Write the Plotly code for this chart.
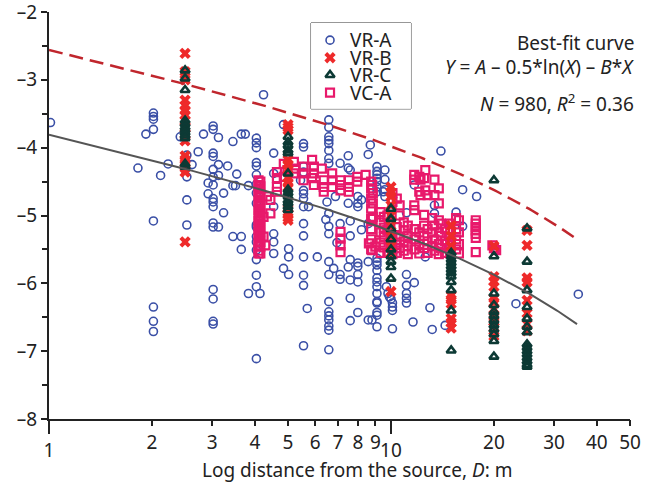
import numpy as np
import plotly.graph_objects as go

# ---------------- data ----------------
# VR-A (blue open circles): (distance, [values])
vra_groups = [
    (1.01, [-3.63]), (1.82, [-4.30]), (1.92, [-3.80]),
    (2.02, [-3.49, -3.54, -3.58, -3.73, -5.08, -6.35, -6.56, -6.71]),
    (2.12, [-4.41]), (2.23, [-4.24]), (2.42, [-3.84]),
    (2.53, [-4.11, -4.43, -4.77, -5.14]), (2.62, [-4.25]), (2.73, [-4.06]),
    (2.83, [-3.80]), (2.92, [-4.52, -4.68]),
    (3.02, [-3.68, -3.73, -4.08, -4.13, -4.32, -4.43, -4.55, -4.75, -4.80, -4.87,
            -5.11, -5.17, -6.09, -6.23, -6.56, -6.60]),
    (3.13, [-3.85, -4.25, -4.41, -5.17]), (3.24, [-4.67, -4.96]), (3.33, [-4.27]),
    (3.45, [-3.91, -4.56, -5.31]), (3.51, [-4.56]), (3.54, [-4.39]),
    (3.65, [-3.80, -5.31, -5.50]), (3.75, [-3.80]), (3.83, [-4.56, -6.15]),
    (4.04, [-3.86, -3.93, -4.00, -4.22, -4.27, -4.40, -4.54, -4.67, -4.82, -5.14,
            -5.17, -5.31, -5.39, -5.51, -5.65, -5.88, -6.05, -7.11]),
    (4.14, [-6.15]), (4.24, [-3.22]),
    (4.54, [-4.08, -4.38, -4.87, -5.27, -5.39, -5.56]),
    (4.85, [-3.66, -5.78]), (5.02, [-5.49, -5.61, -5.87]), (5.44, [-4.48]),
    (5.55, [-3.94, -3.99, -4.28, -4.36, -4.63, -4.68, -4.75, -4.87, -5.12, -5.30,
            -5.61, -5.88, -6.03, -6.92]),
    (5.69, [-6.37]), (5.74, [-4.87]), (6.09, [-5.61]),
    (6.58, [-3.59, -3.70, -3.84, -3.89, -3.94, -4.04, -4.16, -4.23, -4.97, -5.16,
            -5.27, -5.68, -5.87, -6.27, -6.42, -6.48, -6.54, -6.63, -6.69, -6.98]),
    (6.50, [-4.80]), (6.45, [-5.06]),
    (6.88, [-4.72]), (6.95, [-5.40]), (6.80, [-5.78]),
    (7.10, [-4.23, -5.12, -5.87, -5.94]),
    (7.50, [-4.12, -4.30, -4.82, -5.76]),
    (7.60, [-4.33, -5.08, -5.30, -5.65, -5.95, -6.22, -6.55]),
    (8.00, [-4.72, -4.82, -4.87, -5.70, -5.75, -5.87, -5.98, -6.43]),
    (8.20, [-4.77, -5.21]),
    (8.58, [-4.10, -5.12, -5.68, -6.54]), (8.70, [-3.96]), (8.80, [-6.54]),
    (9.10, [-4.28, -4.35, -4.40, -4.45, -4.50, -4.58, -4.65, -5.63, -5.68, -5.73,
            -5.81, -5.92, -5.98, -6.05, -6.15, -6.27, -6.29, -6.43, -6.47, -6.64]),
    (9.50, [-4.65]), (9.60, [-4.33, -4.47, -4.62, -4.72]),
    (9.70, [-6.05]), (9.80, [-6.15]), (9.90, [-6.20]), (10.0, [-6.23]),
    (10.1, [-6.29, -6.35, -6.40, -6.67]),
    (11.1, [-4.96, -5.87, -6.03, -6.15, -6.22, -6.29]), (11.6, [-6.57]),
    (11.7, [-4.55, -5.99]), (12.6, [-5.61]), (13.0, [-6.36]), (13.2, [-6.68]),
    (13.4, [-4.85, -4.97]), (14.0, [-4.05]), (14.4, [-6.62]), (15.5, [-4.95]),
    (16.2, [-4.62, -5.16]), (17.8, [-4.72]), (23.2, [-6.30]), (35.3, [-6.16]),
]

# VR-B (red crosses)
vrb_groups = [
    (2.5, [-2.61, -2.88, -3.00, -3.30, -3.38, -3.45, -3.52, -3.60, -3.70, -3.80,
           -3.90, -4.12, -4.18, -4.24, -4.30, -4.36, -5.39]),
    (5, [-3.66, -3.70, -3.74, -4.18, -4.25, -4.32, -4.45, -4.52, -4.58, -4.90,
         -4.97, -5.03, -5.07]),
    (10, [-4.58, -4.66, -4.72, -4.85, -5.00, -5.15, -5.30, -5.45, -5.55, -6.12]),
    (15, [-5.15, -5.30, -5.45, -6.18, -6.24, -6.30, -6.52, -6.58, -6.66]),
    (20, [-5.45, -5.90, -5.97, -6.05, -6.22, -6.28, -6.38, -6.50, -6.56, -6.65, -6.78]),
    (25, [-5.22, -5.44, -5.92, -5.98, -6.25, -6.44, -6.60, -6.70]),
]

# VR-C (dark green triangles)
vrc_groups = [
    (2.5, [-2.86, -2.98, -3.15, -3.60, -3.65, -3.70, -3.74, -3.78, -3.82, -3.86,
           -4.24, -4.28]),
    (5, [-3.84, -3.92, -3.97, -4.04, -4.08, -4.38, -4.62, -4.67, -4.72, -4.78,
         -4.82, -4.87, -4.92]),
    (10, [-4.90, -5.05, -5.20, -5.35, -5.50, -5.60, -5.68, -5.76, -5.93]),
    (15, [-5.55, -5.60, -5.65, -5.70, -5.75, -5.80, -5.85, -5.90, -5.98, -6.10,
          -6.40, -6.99]),
    (20, [-4.48, -5.60, -6.15, -6.32, -6.42, -6.48, -6.55, -6.62, -6.68, -6.75,
          -6.85, -7.08]),
    (25, [-5.19, -5.68, -6.10, -6.35, -6.52, -6.64, -6.72, -6.90, -6.95, -7.00,
          -7.05, -7.10, -7.15, -7.20, -7.23]),
]

# VC-A (pink open squares)
vca_groups = [
    (4.10, [-4.48, -4.55, -4.62, -4.70, -4.78, -4.85, -4.92, -5.00, -5.08, -5.15,
            -5.22, -5.30, -5.38, -5.45, -5.52, -5.56]),
    (4.15, [-4.50, -4.57, -4.65, -4.72, -4.80, -4.87, -4.95, -5.02, -5.09, -5.17,
            -5.24, -5.31, -5.39, -5.46, -5.56]),
    (4.24, [-5.02, -5.31]), (4.29, [-5.44]), (4.34, [-4.72]), (4.44, [-4.77, -4.97]),
    (4.64, [-4.36, -4.45, -4.58, -4.65]), (4.86, [-4.24, -4.43]), (4.98, [-4.33]),
    (5.20, [-4.21, -4.38]), (5.25, [-4.31]), (5.55, [-4.28, -4.38, -4.48]),
    (5.88, [-4.18, -4.45]), (5.95, [-4.28, -4.38, -4.55]), (6.28, [-4.31]),
    (6.36, [-4.48, -4.58, -4.65]), (6.73, [-4.38, -4.48, -4.58]),
    (7.12, [-4.48, -4.55, -4.63, -5.24, -5.34, -5.44, -5.54]),
    (7.53, [-4.48, -4.58, -4.65]), (7.97, [-4.43, -4.50]), (8.43, [-4.40]),
    (8.62, [-5.41]), (8.81, [-4.55, -5.51]), (8.85, [-4.67, -4.82, -5.02]),
    (8.75, [-4.50, -4.60, -4.75, -4.90, -5.05, -5.20, -5.35, -5.50]),
    (9.00, [-5.46]),
    (9.33, [-4.95, -5.10, -5.25, -5.40, -5.55]),
    (9.53, [-5.02, -5.18, -5.32, -5.47]),
    (9.76, [-5.00, -5.22, -5.55]),
    (9.96, [-5.12, -5.30, -5.45]),
    (10.1, [-4.67, -4.80, -5.34, -5.50, -5.57]),
    (10.4, [-4.75, -5.17, -5.40, -5.55]),
    (10.6, [-4.85, -5.00, -5.31, -5.48]),
    (10.9, [-5.10, -5.22, -5.38, -5.52]),
    (11.2, [-5.15, -5.30, -5.45, -5.57]),
    (11.7, [-4.40, -4.47, -4.85, -4.92, -5.20, -5.35, -5.50]),
    (12.1, [-4.43, -4.65, -5.25, -5.42, -5.56]),
    (12.2, [-4.47, -4.70]),
    (12.5, [-4.45, -4.99, -5.15, -5.30, -5.48]),
    (12.6, [-4.33, -4.63]),
    (12.8, [-4.70, -5.20, -5.38, -5.55]),
    (13.2, [-5.04, -5.25, -5.45]),
    (13.4, [-4.47, -4.70, -5.15, -5.35, -5.52]),
    (13.8, [-4.60, -4.82, -5.07, -5.25, -5.42, -5.57]),
    (14.0, [-5.12, -5.30, -5.48]),
    (14.4, [-5.20, -5.38, -5.55]),
    (14.9, [-5.12, -5.22, -5.32, -5.42, -5.50, -5.56]),
    (15.5, [-5.04, -5.20, -5.35, -5.50]),
    (15.8, [-5.07, -5.25, -5.42, -5.56]),
    (17.7, [-5.07, -5.12, -5.17, -5.22, -5.27, -5.33, -5.54]),
    (19.8, [-5.44]), (20.0, [-5.48]), (20.3, [-5.51]),
]

# Best-fit curve  Y = A - 0.5*ln(X) - B*X  and upper bound (dashed)
fit_A = -3.78
fit_B = 0.0298
upper_offset = 1.25
curve_range = [1, 35]

x_tick_major = [1, 10]
x_tick_minor = [2, 3, 4, 5, 6, 7, 8, 9, 20, 30, 40, 50]
y_ticks = [-8, -7, -6, -5, -4, -3, -2]
y_ticktext = ["–8", "–7", "–6", "–5", "–4", "–3", "–2"]
y_minor = [-7.5, -6.5, -5.5, -4.5, -3.5, -2.5]

legend_labels = ["VR-A", "VR-B", "VR-C", "VC-A"]
legend_rows = [0.80, 0.595, 0.395, 0.19]   # row positions inside the legend box


def flatten(groups):
    xs, ys = [], []
    for d, vals in groups:
        xs += [d] * len(vals)
        ys += vals
    return xs, ys


FONT = "Noto Sans"
FS = 19
styles = {
    "VR-A": dict(symbol="circle-open", size=8, color="#3a4fa6",
                 line=dict(width=1.6, color="#3a4fa6")),
    "VR-B": dict(symbol="x", size=10, color="#ee2a2a", line=dict(width=0)),
    "VR-C": dict(symbol="triangle-up-open", size=8, color="#0d3a35",
                 line=dict(width=2.6, color="#0d3a35")),
    "VC-A": dict(symbol="square-open", size=8, color="#e8196b",
                 line=dict(width=2.2, color="#e8196b")),
}

fig = go.Figure()
for name, groups in [("VR-A", vra_groups), ("VC-A", vca_groups),
                     ("VR-B", vrb_groups), ("VR-C", vrc_groups)]:
    xs, ys = flatten(groups)
    fig.add_trace(go.Scatter(x=xs, y=ys, mode="markers", name=name,
                             showlegend=False, marker=styles[name]))

cx = np.logspace(np.log10(curve_range[0]), np.log10(curve_range[1]), 200)
cy = fit_A - 0.5 * np.log(cx) - fit_B * cx
fig.add_trace(go.Scatter(x=cx, y=cy, mode="lines", showlegend=False,
                         line=dict(color="#555555", width=2)))
fig.add_trace(go.Scatter(x=cx, y=cy + upper_offset, mode="lines", showlegend=False,
                         line=dict(color="#c0262d", width=2.5, dash="14px,7px")))
# invisible helper so the overlay tick axis is drawn
fig.add_trace(go.Scatter(x=[], y=[], xaxis="x2", showlegend=False))

# legend (own small subplot so its box sits above the data)
for lab, row in zip(legend_labels, legend_rows):
    fig.add_trace(go.Scatter(x=[0.19], y=[row], xaxis="x3", yaxis="y3", mode="markers",
                             showlegend=False, marker=styles[lab], hoverinfo="skip"))
    fig.add_annotation(text=lab, xref="x3", yref="y3", x=0.37, y=row, xanchor="left",
                       yanchor="middle", showarrow=False, font=dict(size=FS))
fig.add_shape(type="rect", xref="x3 domain", yref="y3 domain", x0=0, x1=1, y0=0, y1=1,
              fillcolor="#e6e6e6", line=dict(color="#333", width=1), layer="below")

xr = [0, np.log10(50)]
common = dict(showgrid=False, zeroline=False, automargin=False,
              tickfont=dict(size=FS), ticklabeloverflow="allow")
fig.update_layout(
    width=645, height=490,
    margin=dict(l=49, r=15, t=12, b=71),
    paper_bgcolor="white", plot_bgcolor="white",
    font=dict(family=FONT, size=FS, color="#222"),
    showlegend=False,
    xaxis=dict(type="log", range=xr, tickmode="array", tickvals=x_tick_major,
               ticktext=[str(v) for v in x_tick_major], ticks="outside", ticklen=13,
               tickwidth=2, tickcolor="#222", showline=True, linewidth=2,
               linecolor="#222", **common),
    xaxis2=dict(type="log", range=xr, overlaying="x", anchor="y", side="bottom",
                tickmode="array", tickvals=x_tick_minor,
                ticktext=[str(v) for v in x_tick_minor], ticks="outside", ticklen=6,
                tickwidth=2, tickcolor="#222", showline=False, **common),
    yaxis=dict(range=[-8, -2], tickmode="array", tickvals=y_ticks,
               ticktext=y_ticktext, ticks="outside", ticklen=6, tickwidth=2,
               tickcolor="#222", showline=True, linewidth=2, linecolor="#222",
               minor=dict(tickmode="array", tickvals=y_minor,
                          ticks="outside", ticklen=5, tickwidth=2, tickcolor="#222",
                          showgrid=False),
               **common),
    xaxis3=dict(domain=[0.451, 0.623], anchor="y3", range=[0, 1], visible=False,
                fixedrange=True),
    yaxis3=dict(domain=[0.762, 0.973], anchor="x3", range=[0, 1], visible=False,
                fixedrange=True),
)

fig.add_annotation(text="Best-fit curve", xref="paper", yref="paper", x=1.0103, y=0.924,
                   xanchor="right", yanchor="middle", showarrow=False, font=dict(size=FS))
fig.add_annotation(text="<i>Y</i> = <i>A</i> – 0.5*ln(<i>X</i>) – <i>B</i>*<i>X</i>",
                   xref="paper", yref="paper", x=1.0103, y=0.865,
                   xanchor="right", yanchor="middle", showarrow=False, font=dict(size=FS))
fig.add_annotation(text="<i>N</i> = 980, <i>R</i><sup>2</sup> = 0.36",
                   xref="paper", yref="paper", x=1.0103, y=0.776,
                   xanchor="right", yanchor="middle", showarrow=False, font=dict(size=FS))
fig.add_annotation(text="Log distance from the source, <i>D</i>: m",
                   xref="paper", yref="paper", x=0.530, y=-0.1253,
                   xanchor="center", yanchor="middle", showarrow=False, font=dict(size=FS))

# the page's default 8px body margin would shift the figure; remove it
fig.write_html("out.html", config={"displayModeBar": False},
               post_script="document.body.style.margin='0px';document.body.style.overflow='hidden';")
